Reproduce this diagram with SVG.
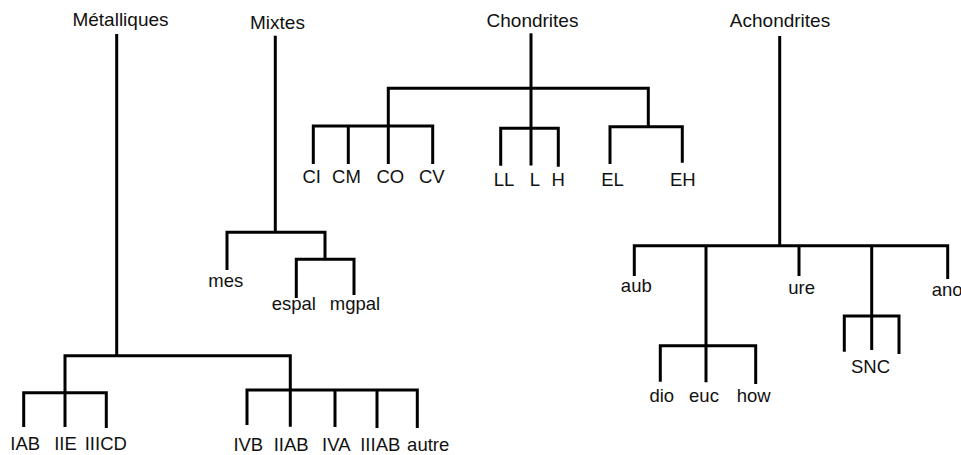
<svg xmlns="http://www.w3.org/2000/svg" width="961" height="455" viewBox="0 0 961 455">
<style>
text{font-family:"Liberation Sans",Arial,Helvetica,sans-serif;font-size:18.5px;fill:#111;text-anchor:middle}
.h{font-size:19px}
.c path{fill:none;stroke:#000;stroke-width:3;stroke-linejoin:miter;stroke-linecap:butt}
</style>
<rect width="961" height="455" fill="#fff"/>
<g class="c" id="connectors">
<!-- Métalliques -->
<path d="M116.7 34V355.7"/>
<path d="M65 392.7V355.7H290.3V390"/>
<path d="M23.7 427V392.7H106.3V428M65 392.7V427"/>
<path d="M247 425V390H417.3V428M290.3 390V426.7M335 390V427M377 390V428"/>
<!-- Mixtes -->
<path d="M275.3 35.7V232.3"/>
<path d="M227 270V232.3H325V259.3"/>
<path d="M296.3 298V259.3H354V295"/>
<!-- Chondrites -->
<path d="M531 33.3V165.5"/>
<path d="M388.3 126V88.3H648.3V126.7"/>
<path d="M313.3 164V126H432.7V164M348.3 126V164M388.3 126V164"/>
<path d="M500.7 165.7V128.3H558.3V166.7"/>
<path d="M610 164V126.7H682.3V162.7"/>
<!-- Achondrites -->
<path d="M779.7 36V245.7"/>
<path d="M634.3 276V245.7H947.7V279M799 245.7V276M706 245.7V345.7M871.7 245.7V350"/>
<path d="M660.3 381.7V345.7H755.7V384M706 345.7V382.3"/>
<path d="M844.3 351.7V316H899V354"/>
</g>
<g id="n-metalliques"><text class="h" x="120.5" y="26">Métalliques</text></g>
<g id="n-mixtes"><text class="h" x="277.5" y="29">Mixtes</text></g>
<g id="n-chondrites"><text class="h" x="532.5" y="26.5">Chondrites</text></g>
<g id="n-achondrites"><text class="h" x="780" y="26.5">Achondrites</text></g>
<g id="n-CI"><text x="311.7" y="182.5">CI</text></g>
<g id="n-CM"><text x="346.5" y="182.5">CM</text></g>
<g id="n-CO"><text x="390.3" y="182.5">CO</text></g>
<g id="n-CV"><text x="431.8" y="182.5">CV</text></g>
<g id="n-LL"><text x="504" y="186">LL</text></g>
<g id="n-L"><text x="535" y="186">L</text></g>
<g id="n-H"><text x="558.3" y="186">H</text></g>
<g id="n-EL"><text x="612.5" y="186">EL</text></g>
<g id="n-EH"><text x="682.8" y="186">EH</text></g>
<g id="n-mes"><text x="225.7" y="287">mes</text></g>
<g id="n-espal"><text x="293.8" y="310">espal</text></g>
<g id="n-mgpal"><text x="355" y="310">mgpal</text></g>
<g id="n-IAB"><text x="25.2" y="450">IAB</text></g>
<g id="n-IIE"><text x="65.5" y="450">IIE</text></g>
<g id="n-IIICD"><text x="105.8" y="450">IIICD</text></g>
<g id="n-IVB"><text x="248.3" y="450.5">IVB</text></g>
<g id="n-IIAB"><text x="291.2" y="450.5">IIAB</text></g>
<g id="n-IVA"><text x="336.3" y="450.5">IVA</text></g>
<g id="n-IIIAB"><text x="380.3" y="450.5">IIIAB</text></g>
<g id="n-autre"><text x="428.2" y="450.5">autre</text></g>
<g id="n-aub"><text x="636.3" y="292">aub</text></g>
<g id="n-ure"><text x="801.7" y="294">ure</text></g>
<g id="n-ano"><text x="931.7" y="296" style="text-anchor:start">ano</text></g>
<g id="n-SNC"><text x="870.5" y="373">SNC</text></g>
<g id="n-dio"><text x="661.8" y="402">dio</text></g>
<g id="n-euc"><text x="704" y="402">euc</text></g>
<g id="n-how"><text x="753.7" y="402">how</text></g>
</svg>
